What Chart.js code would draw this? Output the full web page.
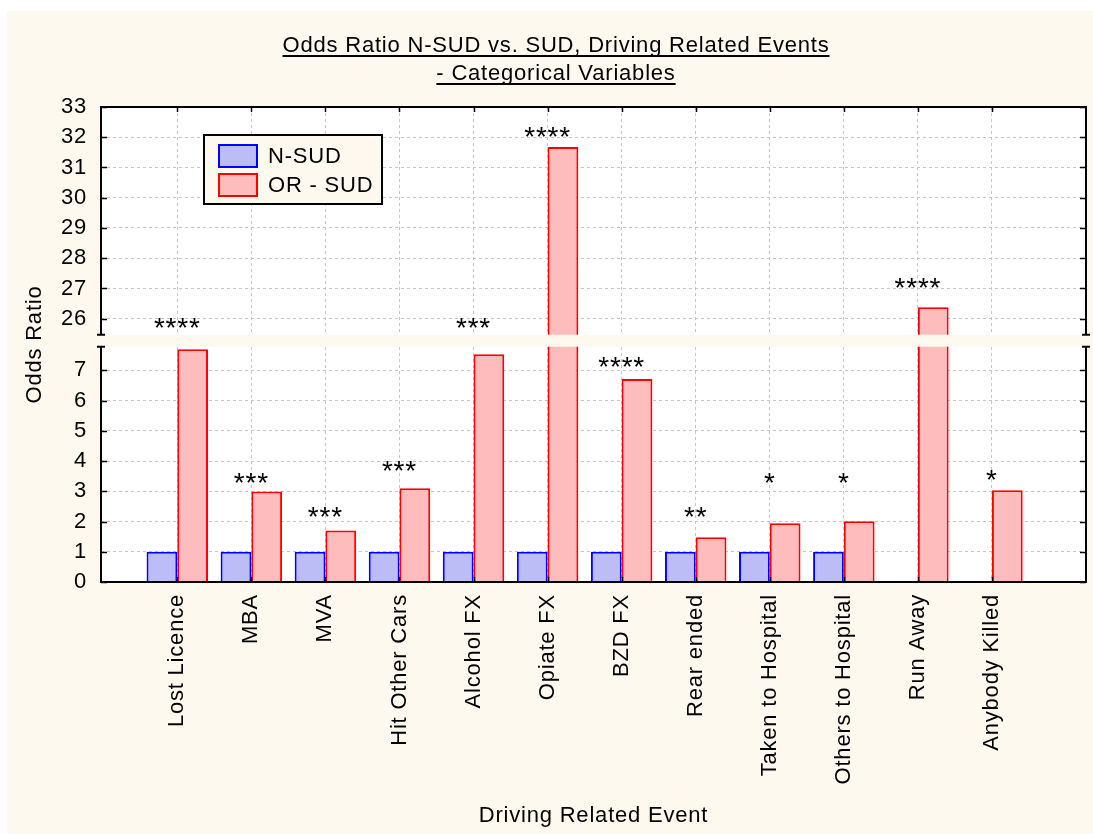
<!DOCTYPE html>
<html><head><meta charset="utf-8">
<script src="https://cdn.jsdelivr.net/npm/chart.js@4.4.1/dist/chart.umd.min.js"></script>
<style>html,body{margin:0;padding:0;background:#fff;overflow:hidden}#wrap{width:1093px;height:834px}</style>
</head><body><div id="wrap"><canvas id="c" width="1093" height="834"></canvas></div>
<script>
// ---------- data ----------
const categories = ['Lost Licence','MBA','MVA','Hit Other Cars','Alcohol FX','Opiate FX','BZD FX','Rear ended','Taken to Hospital','Others to Hospital','Run Away','Anybody Killed'];
const nSud  = [1, 1, 1, 1, 1, 1, 1, 1, 1, 1, 0, 0];
const orSud = [7.70, 2.99, 1.70, 3.10, 7.53, 31.68, 6.71, 1.48, 1.94, 2.01, 26.38, 3.03];
const sigLabels = ['****','***','***','***','***','****','****','**','*','*','****','*'];
const sigLevels = [25.91, 3.50, 2.38, 3.89, 25.90, 32.24, 7.32, 2.36, 3.50, 3.50, 27.25, 3.59];
const lowerTicks = [0,1,2,3,4,5,6,7];
const upperTicks = [26,27,28,29,30,31,32,33];
const lowerRange = [0, 7.78];
const upperRange = [25.47, 33];
const titleLines = ['Odds Ratio N-SUD vs. SUD, Driving Related Events', '- Categorical Variables'];
const seriesNames = ['N-SUD', 'OR - SUD'];

const FONT = 'Liberation Sans, Arial, Helvetica, sans-serif';
const CREAM = '#fdf9ef';
const SPACING = '0.8px';

// ---------- broken y scale ----------
class BrokenLinearScale extends Chart.LinearScale {
  static id = 'brokenLinear';
  static defaults = Chart.LinearScale.defaults;
  determineDataLimits() { this.min = lowerRange[0]; this.max = upperRange[1]; }
  buildTicks() { return lowerTicks.concat(upperTicks).map(v => ({ value: v })); }
  _geom() {
    const gap = this.options.gap || 12;
    const span = (lowerRange[1] - lowerRange[0]) + (upperRange[1] - upperRange[0]);
    const ppu = (this.bottom - this.top - gap) / span;
    const lowerTop = this.bottom - (lowerRange[1] - lowerRange[0]) * ppu;
    return { gap, ppu, lowerTop };
  }
  getPixelForValue(value) {
    if (value === null || value === undefined || isNaN(value)) return NaN;
    const { gap, ppu, lowerTop } = this._geom();
    if (value <= lowerRange[1]) return this.bottom - (value - lowerRange[0]) * ppu;
    if (value < upperRange[0]) return lowerTop;
    return lowerTop - gap - (value - upperRange[0]) * ppu;
  }
  getValueForPixel(pixel) {
    const { gap, ppu, lowerTop } = this._geom();
    if (pixel >= lowerTop) return lowerRange[0] + (this.bottom - pixel) / ppu;
    return upperRange[0] + (lowerTop - gap - pixel) / ppu;
  }
  getBasePixel() { return this.getPixelForValue(0); }
  breakPixels() { const { gap, lowerTop } = this._geom(); return [lowerTop - gap, lowerTop]; }
}
Chart.register(BrokenLinearScale);

// ---------- decorations plugin ----------
const decor = {
  id: 'decor',
  beforeLayout(chart) { chart.ctx.letterSpacing = SPACING; },
  beforeDraw(chart) {
    const { ctx, width, height, chartArea: a } = chart;
    ctx.save();
    ctx.fillStyle = '#ffffff'; ctx.fillRect(0, 0, width, height);
    ctx.fillStyle = CREAM; ctx.fillRect(7, 11, width - 7, height - 11);
    ctx.fillStyle = '#ffffff'; ctx.fillRect(a.left, a.top, a.right - a.left, a.bottom - a.top);
    ctx.restore();
    ctx.letterSpacing = SPACING;
    // title with underline
    ctx.save();
    ctx.font = '22px ' + FONT;
    ctx.fillStyle = '#000'; ctx.textAlign = 'center'; ctx.textBaseline = 'alphabetic';
    const cx = 556, base = [52, 80];
    titleLines.forEach((t, i) => {
      ctx.fillText(t, cx, base[i]);
      const w = ctx.measureText(t).width;
      ctx.fillRect(cx - w / 2, base[i] + 3, w, 2);
    });
    ctx.restore();
  },
  afterDatasetsDraw(chart) {
    const { ctx, chartArea: a, scales: { x, y } } = chart;
    ctx.save();
    ctx.letterSpacing = SPACING;
    // frame
    ctx.strokeStyle = '#000'; ctx.lineWidth = 2;
    ctx.strokeRect(a.left, a.top, a.right - a.left, a.bottom - a.top);
    // inside ticks
    ctx.lineWidth = 1.5;
    ctx.beginPath();
    y.ticks.forEach(t => {
      const py = Math.round(y.getPixelForValue(t.value)) + 0.5;
      ctx.moveTo(a.left, py); ctx.lineTo(a.left + 6, py);
      ctx.moveTo(a.right, py); ctx.lineTo(a.right - 6, py);
    });
    x.ticks.forEach(t => {
      const px = Math.round(x.getPixelForValue(t.value)) + 0.5;
      ctx.moveTo(px, a.bottom); ctx.lineTo(px, a.bottom - 5);
      ctx.moveTo(px, a.top); ctx.lineTo(px, a.top + 5);
    });
    ctx.stroke();
    // axis break band
    const [bTop, bBot] = y.breakPixels();
    ctx.fillStyle = CREAM;
    ctx.fillRect(a.left - 4, bTop, a.right - a.left + 8, bBot - bTop);
    ctx.lineWidth = 2; ctx.strokeStyle = '#000';
    ctx.beginPath();
    [a.left, a.right].forEach(px => {
      ctx.moveTo(px - 4, bTop); ctx.lineTo(px + 4, bTop);
      ctx.moveTo(px - 4, bBot); ctx.lineTo(px + 4, bBot);
    });
    ctx.stroke();
    // significance stars
    const fs = 28;
    ctx.font = fs + 'px ' + FONT;
    ctx.fillStyle = '#000'; ctx.textAlign = 'center'; ctx.textBaseline = 'alphabetic';
    sigLabels.forEach((s, i) => {
      const px = x.getPixelForValue(i + 1);
      const py = y.getPixelForValue(sigLevels[i]) + fs * 0.56;
      ctx.fillText(s, px, py);
    });
    // legend
    const lx = 204, ly = 135, lw = 178, lh = 69;
    ctx.fillStyle = CREAM; ctx.fillRect(lx, ly, lw, lh);
    ctx.lineWidth = 2; ctx.strokeStyle = '#000'; ctx.strokeRect(lx, ly, lw, lh);
    ctx.font = '22px ' + FONT; ctx.textAlign = 'left'; ctx.textBaseline = 'middle';
    chart.data.datasets.forEach((ds, i) => {
      const sy = ly + 9 + i * 29;
      ctx.fillStyle = ds.backgroundColor; ctx.fillRect(lx + 14, sy, 40, 24);
      ctx.strokeStyle = ds.borderColor; ctx.lineWidth = 2; ctx.strokeRect(lx + 15, sy + 1, 38, 22);
      ctx.fillStyle = '#000'; ctx.fillText(ds.label, lx + 64, sy + 13);
    });
    ctx.restore();
  }
};

// ---------- chart ----------
const ctx = document.getElementById('c').getContext('2d');
new Chart(ctx, {
  type: 'bar',
  data: {
    datasets: [
      { label: seriesNames[0], data: nSud.map((v, i) => ({ x: i + 1, y: v })),
        backgroundColor: '#bcbcf6', borderColor: '#0000ff', borderWidth: 2, borderSkipped: 'start' },
      { label: seriesNames[1], data: orSud.map((v, i) => ({ x: i + 1, y: v })),
        backgroundColor: '#ffbcbc', borderColor: '#ff0000', borderWidth: 2, borderSkipped: 'start' }
    ]
  },
  options: {
    responsive: false, animation: false, devicePixelRatio: 1,
    categoryPercentage: 0.83, barPercentage: 1.0,
    layout: { padding: { left: 0, right: 7, top: 107, bottom: 0 } },
    plugins: { legend: { display: false }, title: { display: false }, tooltip: { enabled: false } },
    scales: {
      x: {
        type: 'linear', min: -0.03, max: 13.27, offset: false,
        afterBuildTicks: s => { s.ticks = categories.map((c, i) => ({ value: i + 1 })); },
        ticks: { callback: v => categories[v - 1] || '', minRotation: 90, maxRotation: 90, autoSkip: false,
                 padding: 12, font: { size: 22, family: FONT }, color: '#000' },
        grid: { color: '#c4c4c4', lineWidth: 1, drawTicks: false, offset: false },
        border: { display: false, dash: [3, 3] },
        title: { display: true, text: 'Driving Related Event', font: { size: 22, family: FONT }, color: '#000',
                 padding: { top: 0, bottom: 5 } },
        afterFit: s => { s.height = 834 - 582; }
      },
      y: {
        type: 'brokenLinear', position: 'left', gap: 12,
        ticks: { autoSkip: false, padding: 14, font: { size: 22, family: FONT }, color: '#000', callback: v => String(v) },
        grid: { color: '#c4c4c4', lineWidth: 1, drawTicks: false },
        border: { display: false, dash: [3, 3] },
        title: { display: true, text: 'Odds Ratio', font: { size: 22, family: FONT }, color: '#000', padding: { top: 22, bottom: 0 } },
        afterFit: s => { s.width = 101; }
      }
    }
  },
  plugins: [decor]
});
</script>
</body></html>
